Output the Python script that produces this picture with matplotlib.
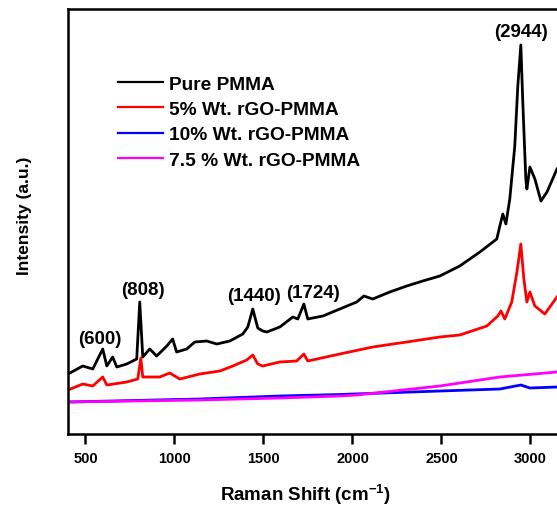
import matplotlib
matplotlib.use("Agg")
import matplotlib.pyplot as plt

plt.rcParams["font.family"] = ["Liberation Sans", "DejaVu Sans"]
plt.rcParams["font.weight"] = "bold"
plt.rcParams["mathtext.fontset"] = "custom"
plt.rcParams["mathtext.rm"] = "Liberation Sans:bold"
plt.rcParams["mathtext.bf"] = "Liberation Sans:bold"
plt.rcParams["mathtext.default"] = "bf"

# Raman spectra (intensity in arbitrary units)
pure_x = [402, 485, 541, 597, 620, 653, 676, 732, 788, 805, 822, 861, 900, 957,
          990, 1012, 1069, 1114, 1181, 1238, 1311, 1384, 1412, 1440, 1468, 1496,
          1519, 1592, 1665, 1693, 1727, 1749, 1834, 1929, 2024, 2064, 2114, 2210,
          2305, 2395, 2491, 2603, 2716, 2811, 2828, 2845, 2862, 2884, 2912, 2929,
          2946, 2957, 2974, 2980, 2997, 3025, 3059, 3093, 3149]
pure_y = [60, 68, 65, 85, 68, 77, 67, 70, 75, 132, 77, 85, 78, 88,
          95, 82, 85, 92, 93, 90, 93, 100, 107, 125, 106, 103,
          102, 107, 117, 115, 130, 115, 118, 125, 132, 138, 135, 142,
          148, 153, 158, 168, 182, 195, 208, 220, 210, 235, 288, 348,
          389, 332, 255, 245, 267, 255, 233, 242, 265]

rgo5_x = [402, 485, 541, 597, 620, 732, 794, 811, 822, 917, 974, 1030, 1142,
          1255, 1328, 1406, 1440, 1468, 1496, 1592, 1687, 1727, 1749, 1929,
          2114, 2305, 2491, 2603, 2755, 2817, 2834, 2856, 2895, 2924, 2946,
          2963, 2980, 2997, 3025, 3081, 3149]
rgo5_y = [44, 50, 48, 57, 49, 52, 55, 76, 57, 57, 61, 55, 60,
          63, 68, 74, 79, 70, 68, 72, 73, 80, 73, 80,
          87, 92, 97, 99, 108, 118, 123, 115, 132, 162, 190,
          155, 132, 142, 128, 120, 137]

rgo10_x = [402, 1142, 1592, 1929, 2491, 2828, 2946, 2997, 3149]
rgo10_y = [32, 35, 38, 39.5, 43, 45, 49, 46, 47]

rgo75_x = [402, 1142, 1592, 1929, 2024, 2491, 2828, 3149]
rgo75_y = [32, 34, 36, 38, 39, 48, 57, 62]

labels = ["Pure PMMA", "5% Wt. rGO-PMMA", "10% Wt. rGO-PMMA", "7.5 % Wt. rGO-PMMA"]
colors = ["black", "#ff0000", "#0000ff", "#ff00ff"]

peak_names = ["(600)", "(808)", "(1440)", "(1724)", "(2944)"]
peak_x = [583, 822, 1446, 1777, 2948]
peak_y = [95.5, 144, 138, 141, 402]

fig = plt.figure(figsize=(5.57, 5.06), dpi=100)
ax = fig.add_axes([0.1221, 0.1403, 0.990, 0.839])

series = [(pure_x, pure_y), (rgo5_x, rgo5_y), (rgo10_x, rgo10_y), (rgo75_x, rgo75_y)]
for (xs, ys), lab, col in zip(series, labels, colors):
    ax.plot(xs, ys, color=col, lw=2.0, label=lab)

for name, px, py in zip(peak_names, peak_x, peak_y):
    ax.text(px, py, name, ha="center", va="center", fontsize=13.5, fontweight="bold")

ax.set_xlim(402, 3500)
ax.set_ylim(0, 424.5)
ax.set_xticks([500, 1000, 1500, 2000, 2500, 3000])
ax.set_yticks([])
ax.tick_params(axis="x", direction="out", length=7, width=1.8, labelsize=10.5, pad=5)
for lbl in ax.get_xticklabels():
    lbl.set_fontweight("bold")
for sp in ax.spines.values():
    sp.set_linewidth(1.8)

ax.set_xlabel(r"Raman Shift (cm$^{-1}$)", fontsize=13.5, fontweight="bold")
ax.xaxis.label.set_va("center")
ax.xaxis.set_label_coords((305 - 68) / 551.5, -0.141)
ax.set_ylabel("Intensity (a.u.)", fontsize=12.5, fontweight="bold")
ax.yaxis.set_label_coords(-0.0653, 0.517)

leg = ax.legend(loc="upper left", bbox_to_anchor=(0.0907, 0.845), frameon=False,
                fontsize=13.8, handlelength=2.35, handletextpad=0.3,
                labelspacing=0.41, borderpad=0, borderaxespad=0)
for line in leg.get_lines():
    line.set_linewidth(1.6)

fig.savefig("out.png", dpi=100)
